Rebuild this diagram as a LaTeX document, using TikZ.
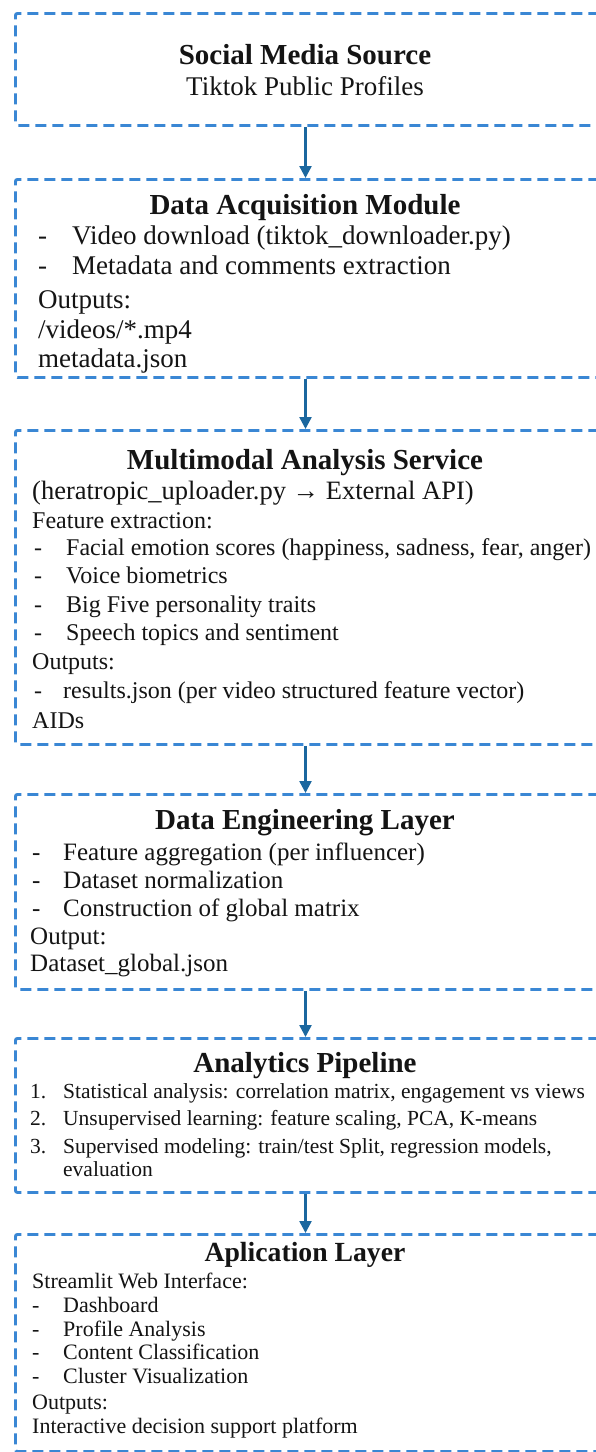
\documentclass[tikz,border=0pt]{standalone}
\usepackage{fontspec}
\setmainfont{Liberation Serif}
\usetikzlibrary{arrows.meta}
\definecolor{panelblue}{HTML}{3A87D4}
\definecolor{arrowblue}{HTML}{1B679F}
\newcommand\fsz[1]{\fontsize{#1pt}{#1pt}\selectfont}
\begin{document}
\begin{tikzpicture}[x=1pt,y=-1pt,
  panel/.style={draw=panelblue, line width=2.9pt, dash pattern=on 11pt off 6pt,
    rounded corners=2pt, inner sep=0pt, anchor=north west, minimum width=620pt},
  flow/.style={draw=arrowblue, line width=2.4pt, -{Triangle[width=12pt,length=12pt]}},
  ttl/.style={inner sep=0pt, anchor=base, font=\bfseries\fsz{29}},
  txt/.style={inner sep=0pt, anchor=base west},
  every node/.append style={text=black!92}]
\useasboundingbox (0,0) rectangle (595,1452);
\fill[white] (0,0) rectangle (595,1452);
\coordinate (axis) at (305.5,0);

% ---- panels ----
\node[panel, minimum height=112pt] (b1) at (14,12) {};
\node[panel, minimum height=198pt] (b2) at (14,178) {};
\node[panel, minimum height=314pt] (b3) at (14,429) {};
\node[panel, minimum height=195pt] (b4) at (14,793) {};
\node[panel, minimum height=154pt] (b5) at (14,1037) {};
\node[panel, minimum height=217pt] (b6) at (14,1233) {};

% ---- connectors ----
\draw[flow] (b1.south -| axis) -- (b2.north -| axis);
\draw[flow] (b2.south -| axis) -- (b3.north -| axis);
\draw[flow] (b3.south -| axis) -- (b4.north -| axis);
\draw[flow] (b4.south -| axis) -- (b5.north -| axis);
\draw[flow] (b5.south -| axis) -- (b6.north -| axis);

% ---- Social Media Source ----
\node[ttl] (t1) at (305,64) {Social Media Source};
\node[inner sep=0pt, anchor=base, font=\fsz{27}] (s1) at (305,95) {Tiktok Public Profiles};

% ---- Data Acquisition Module ----
\node[ttl] (t2) at (305,214) {Data Acquisition Module};
\begin{scope}[every node/.append style={font=\fsz{27}}]
\node[txt] (d2a) at (38,244) {-};
\node[txt] (l2a) at (72,244) {Video download (tiktok\_downloader.py)};
\node[txt] (d2b) at (38,274) {-};
\node[txt] (l2b) at (72,274) {Metadata and comments extraction};
\node[txt] (l2c) at (38,308) {Outputs:};
\node[txt] (l2d) at (38,338) {/videos/*.mp4};
\node[txt] (l2e) at (38,367) {metadata.json};
\end{scope}

% ---- Multimodal Analysis Service ----
\node[ttl] (t3) at (305,469) {Multimodal Analysis Service};
\node[txt, font=\fsz{26.5}] (l3a) at (32,499) {(heratropic\_uploader.py → External API)};
\begin{scope}[every node/.append style={font=\fsz{24}}]
\node[txt] (l3b) at (32,528) {Feature extraction:};
\node[txt] (d3c) at (34,555) {-};
\node[txt] (l3c) at (66,555) {Facial emotion scores (happiness, sadness, fear, anger)};
\node[txt] (d3d) at (34,583) {-};
\node[txt] (l3d) at (66,583) {Voice biometrics};
\node[txt] (d3e) at (34,612) {-};
\node[txt] (l3e) at (66,612) {Big Five personality traits};
\node[txt] (d3f) at (34,640) {-};
\node[txt] (l3f) at (66,640) {Speech topics and sentiment};
\node[txt] (l3g) at (32,669) {Outputs:};
\node[txt] (d3h) at (34,698) {-};
\node[txt] (l3h) at (63,698) {results.json (per video structured feature vector)};
\node[txt] (l3i) at (32,728) {AIDs};
\end{scope}

% ---- Data Engineering Layer ----
\node[ttl] (t4) at (305,829) {Data Engineering Layer};
\begin{scope}[every node/.append style={font=\fsz{25}}]
\node[txt] (d4a) at (32,860) {-};
\node[txt] (l4a) at (63,860) {Feature aggregation (per influencer)};
\node[txt] (d4b) at (32,888) {-};
\node[txt] (l4b) at (63,888) {Dataset normalization};
\node[txt] (d4c) at (32,916) {-};
\node[txt] (l4c) at (63,916) {Construction of global matrix};
\node[txt] (l4d) at (30,944) {Output:};
\node[txt] (l4e) at (30,971) {Dataset\_global.json};
\end{scope}

% ---- Analytics Pipeline ----
\node[ttl] (t5) at (305,1072) {Analytics Pipeline};
\begin{scope}[every node/.append style={font=\fsz{21.5}}]
\node[txt] (n5a) at (30,1098) {1.};
\node[txt] (l5a) at (63,1098) {Statistical analysis: correlation matrix, engagement vs views};
\node[txt] (n5b) at (30,1125) {2.};
\node[txt] (l5b) at (63,1125) {Unsupervised learning: feature scaling, PCA, K-means};
\node[txt] (n5c) at (30,1153) {3.};
\node[txt] (l5c) at (63,1153) {Supervised modeling: train/test Split, regression models,};
\node[txt] (l5d) at (63,1176) {evaluation};
\end{scope}

% ---- Aplication Layer ----
\node[ttl, font=\bfseries\fsz{27.7}] (t6) at (305,1261) {Aplication Layer};
\begin{scope}[every node/.append style={font=\fsz{22}}]
\node[txt] (l6a) at (32,1288) {Streamlit Web Interface:};
\node[txt] (d6b) at (32,1312) {-};
\node[txt] (l6b) at (63,1312) {Dashboard};
\node[txt] (d6c) at (32,1336) {-};
\node[txt] (l6c) at (63,1336) {Profile Analysis};
\node[txt] (d6d) at (32,1359) {-};
\node[txt] (l6d) at (63,1359) {Content Classification};
\node[txt] (d6e) at (32,1383) {-};
\node[txt] (l6e) at (63,1383) {Cluster Visualization};
\node[txt] (l6f) at (32,1409) {Outputs:};
\node[txt] (l6g) at (32,1433) {Interactive decision support platform};
\end{scope}
\end{tikzpicture}
\end{document}
